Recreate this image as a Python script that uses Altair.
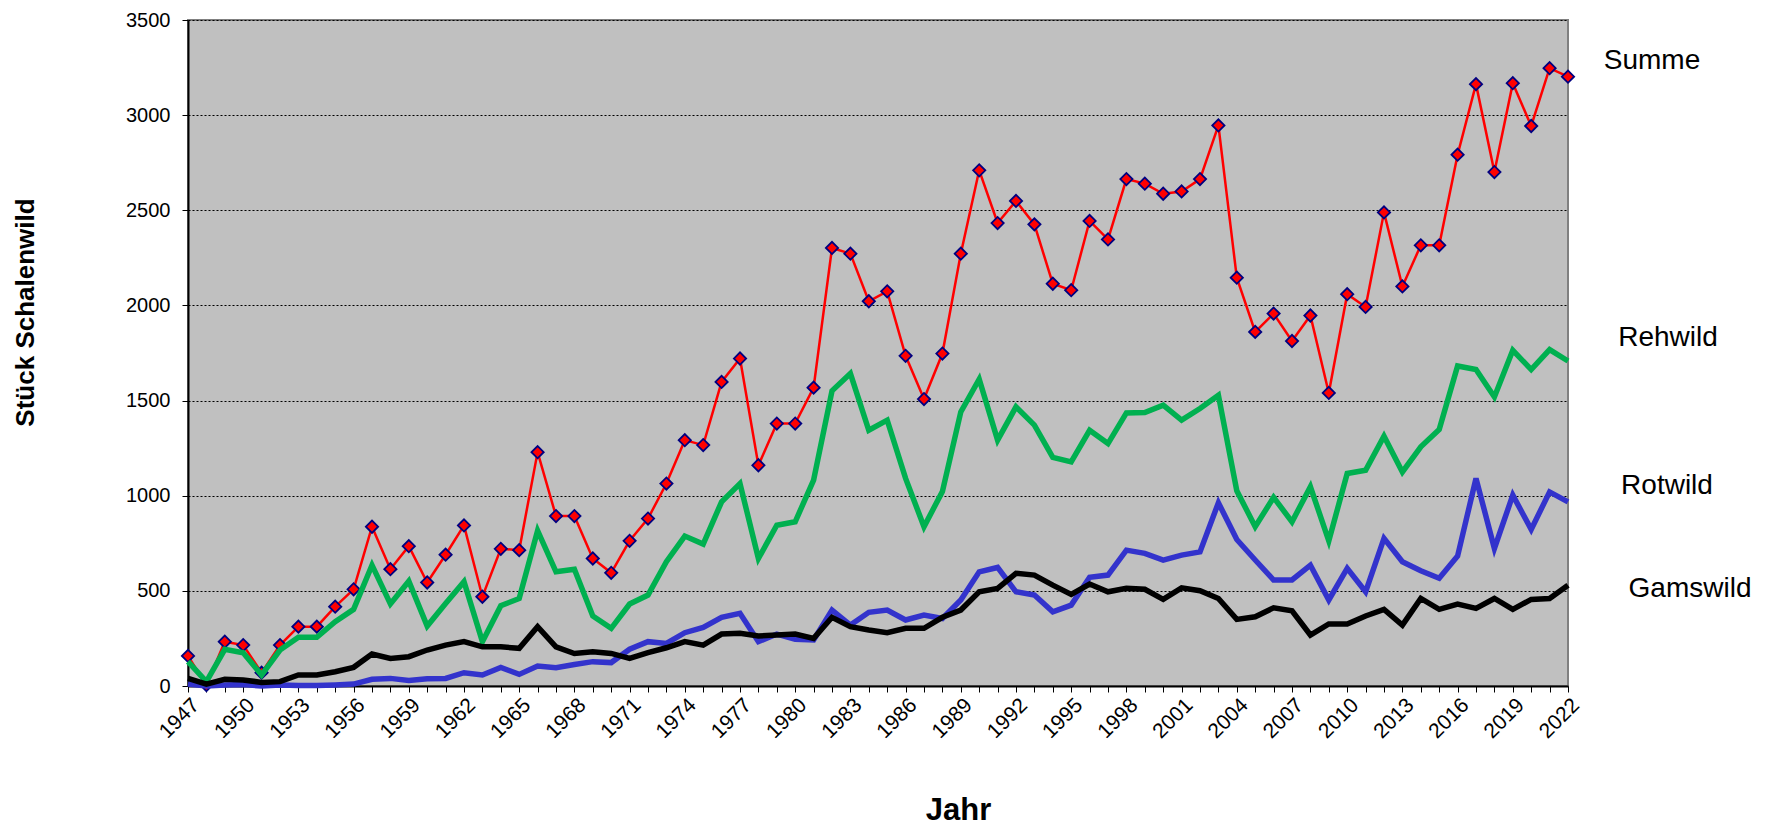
import altair as alt
import pandas as pd

years = list(range(1947, 2023))

summe = [158, 5, 233, 215, 70, 215, 312, 312, 417, 508,
         837, 614, 735, 544, 690, 844, 469, 721, 714, 1229,
         893, 893, 670, 595, 763, 880, 1064, 1292, 1266, 1598,
         1721, 1160, 1379, 1379, 1568, 2302, 2272, 2022, 2074, 1735,
         1508, 1747, 2272, 2710, 2433, 2549, 2426, 2114, 2080, 2444,
         2347, 2664, 2640, 2587, 2599, 2664, 2946, 2146, 1861, 1957,
         1813, 1947, 1540, 2059, 1992, 2489, 2100, 2316, 2316, 2792,
         3163, 2701, 3168, 2943, 3247, 3202]

rehwild = [128, 23, 193, 175, 58, 189, 256, 256, 338, 403,
           635, 431, 551, 315, 434, 548, 233, 422, 460, 816,
           600, 614, 368, 303, 431, 478, 653, 788, 746, 968,
           1064, 670, 845, 863, 1082, 1551, 1642, 1344, 1397, 1091,
           837, 1022, 1440, 1612, 1292, 1467, 1371, 1201, 1178, 1344,
           1274, 1435, 1437, 1476, 1397, 1458, 1528, 1026, 837, 991,
           863, 1047, 763, 1117, 1134, 1313, 1125, 1257, 1348, 1682,
           1663, 1519, 1764, 1663, 1768, 1708]

rotwild = [10, 0, 5, 8, 0, 5, 2, 2, 5, 10,
           35, 40, 29, 38, 40, 70, 58, 98, 61, 105,
           96, 113, 128, 123, 193, 233, 224, 280, 308, 361,
           382, 233, 273, 245, 242, 399, 320, 387, 399, 347,
           373, 355, 452, 600, 623, 495, 478, 390, 425, 571,
           583, 714, 697, 662, 688, 705, 963, 770, 662, 557,
           557, 635, 452, 618, 495, 776, 653, 606, 566, 683,
           1091, 723, 1003, 823, 1020, 968]

gamswild = [40, 10, 35, 32, 19, 23, 58, 58, 75, 98,
            168, 145, 154, 189, 215, 233, 206, 206, 198, 312,
            206, 171, 180, 171, 145, 175, 201, 233, 215, 273,
            277, 263, 268, 273, 250, 361, 312, 294, 280, 303,
            303, 361, 399, 495, 513, 592, 583, 530, 481, 536,
            495, 513, 508, 455, 516, 501, 460, 350, 364, 411,
            395, 268, 326, 326, 368, 403, 320, 460, 403, 431,
            408, 460, 403, 455, 460, 530]

series_names = ["Summe", "Rehwild", "Rotwild", "Gamswild"]
series_colors = ["#FF0000", "#00B050", "#3333CC", "#000000"]
series_widths = [2.5, 5.5, 5.5, 5.5]
label_x = [1464, 1480, 1479, 1502]
label_y = [49, 326, 474, 577]

FONT = "Liberation Sans"

y_ticks = list(range(0, 3501, 500))

x_enc = alt.X(
    "Jahr:Q",
    scale=alt.Scale(domain=[1947, 2022], nice=False, zero=False),
    axis=alt.Axis(
        values=years, format="d",
        labelExpr="(datum.value - 1947) % 3 == 0 ? datum.label : ''",
        labelAngle=315, labelAlign="right", labelBaseline="top",
        labelFontSize=21, labelPadding=2, labelFont=FONT, labelColor="#000000",
        tickSize=6, tickColor="#000000", tickWidth=1,
        domainColor="#000000", domainWidth=2,
        grid=False, labelOverlap=False,
        title="Jahr", titleFontSize=31, titleFontWeight="bold", titleFont=FONT,
        titleColor="#000000", titleX=770, titleY=133, titleBaseline="alphabetic",
        titleAlign="center",
    ),
)

y_enc = alt.Y(
    "Wert:Q",
    scale=alt.Scale(domain=[0, 3500], nice=False),
    axis=alt.Axis(
        values=y_ticks, format="d",
        labelFontSize=20, labelPadding=12, labelFont=FONT, labelColor="#000000",
        tickSize=6, tickColor="#000000", tickWidth=1,
        domainColor="#000000", domainWidth=2,
        grid=True, gridColor="#000000", gridDash=[2, 2], gridWidth=1,
        title="Stück Schalenwild", titleFontSize=26, titleFontWeight="bold",
        titleFont=FONT, titleColor="#000000", titleAngle=270,
        titleX=-163, titleY=292, titleAlign="center", titleBaseline="middle",
    ),
)

values_by_series = [summe, rehwild, rotwild, gamswild]
layers = []
for name, vals, col, w in zip(series_names, values_by_series, series_colors, series_widths):
    df = pd.DataFrame({"Jahr": years, "Wert": vals, "Serie": name})
    layers.append(
        alt.Chart(df).mark_line(color=col, strokeWidth=w).encode(x=x_enc, y=y_enc)
    )
    if name == "Summe":
        layers.append(
            alt.Chart(df).mark_point(
                shape="diamond", filled=True, fill="#FF0000", stroke="#000080",
                strokeWidth=1.8, size=150, opacity=1,
            ).encode(x=x_enc, y=y_enc)
        )

for name, lx, ly in zip(series_names, label_x, label_y):
    ldf = pd.DataFrame({"Serie": [name]})
    layers.append(
        alt.Chart(ldf).mark_text(
            font=FONT, fontSize=28, color="#000000", align="center",
            baseline="alphabetic",
        ).encode(text="Serie:N", x=alt.value(lx), y=alt.value(ly))
    )

chart = alt.layer(*layers).properties(
    width=1380, height=666,
    autosize=alt.AutoSizeParams(type="none"),
    padding={"left": 180, "top": 12, "right": 185, "bottom": 141},
    background="#FFFFFF",
).configure_view(
    fill="#C0C0C0", stroke="#808080", strokeWidth=2,
)

chart.save("out.html", embed_options={"renderer": "svg", "actions": False})
